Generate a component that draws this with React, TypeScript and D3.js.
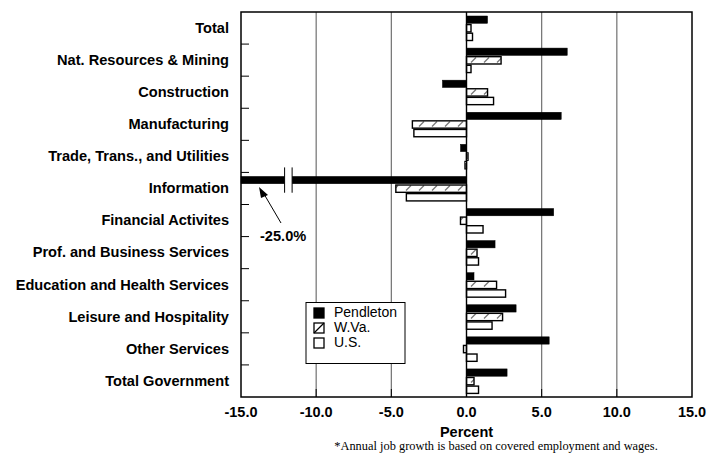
import React from "react";
import * as d3 from "d3";

const categories = [
  "Total",
  "Nat. Resources & Mining",
  "Construction",
  "Manufacturing",
  "Trade, Trans., and Utilities",
  "Information",
  "Financial Activites",
  "Prof. and Business Services",
  "Education and Health Services",
  "Leisure and Hospitality",
  "Other Services",
  "Total Government",
];

const seriesNames = ["Pendleton", "W.Va.", "U.S."];

const pendleton = [1.4, 6.7, -1.6, 6.3, -0.4, -25.0, 5.8, 1.9, 0.5, 3.3, 5.5, 2.7];
const wva = [0.3, 2.3, 1.4, -3.6, 0.1, -4.7, -0.4, 0.7, 2.0, 2.4, -0.2, 0.5];
const us = [0.4, 0.3, 1.8, -3.5, -0.1, -4.0, 1.1, 0.8, 2.6, 1.7, 0.7, 0.8];

const xTicks = [-15, -10, -5, 0, 5, 10, 15];

const W = 707;
const H = 454;
const margin = { top: 12, right: 15, bottom: 57, left: 241 };
const font = "'Liberation Sans', Arial, Helvetica, sans-serif";

export default function App() {
  const x = d3
    .scaleLinear()
    .domain([-15, 15])
    .range([margin.left, W - margin.right])
    .clamp(true);
  const y = d3
    .scaleBand<string>()
    .domain(categories)
    .range([margin.top, H - margin.bottom])
    .padding(0);
  const inner = d3
    .scaleBand<string>()
    .domain(seriesNames)
    .range([4, 28.5])
    .paddingInner(0.15);

  const series = [pendleton, wva, us];
  const fills = ["#000", "url(#hatch)", "#fff"];
  const x0 = x(0);
  const top = margin.top;
  const bottom = H - margin.bottom;

  // break marks on the information bar
  const infoY = y("Information")! + inner("Pendleton")!;
  const bw = inner.bandwidth();

  return (
    <svg
      width={W}
      height={H}
      style={{ position: "absolute", left: 0, top: 0, background: "#fff" }}
      fontFamily={font}
    >
      <defs>
        <pattern id="hatch" width="13" height="8" patternUnits="userSpaceOnUse">
          <rect width="13" height="8" fill="#fff" />
          <line x1="3" y1="6.5" x2="8" y2="1.5" stroke="#777" strokeWidth="1.3" />
        </pattern>
      </defs>

      {/* gridlines */}
      {xTicks
        .filter((t) => t !== 0 && Math.abs(t) !== 15)
        .map((t) => (
          <line key={t} x1={x(t)} x2={x(t)} y1={top} y2={bottom} stroke="#707070" strokeWidth={1.2} />
        ))}

      {/* bars */}
      {series.map((vals, si) =>
        vals.map((v, ci) => {
          const yy = y(categories[ci])! + inner(seriesNames[si])!;
          const xa = Math.min(x(v), x0);
          const xb = Math.max(x(v), x0);
          return (
            <rect
              key={`${si}-${ci}`}
              x={xa}
              y={yy}
              width={Math.max(xb - xa, 1)}
              height={bw}
              fill={fills[si]}
              stroke="#000"
              strokeWidth={si === 0 ? 0.5 : 1.4}
            />
          );
        })
      )}

      {/* axis break */}
      <rect x={x(-12.1)} y={infoY - 0.5} width={x(-11.6) - x(-12.1)} height={bw + 1} fill="#fff" />
      <line x1={x(-12.1)} x2={x(-12.1)} y1={infoY - 9} y2={infoY + bw + 9} stroke="#000" strokeWidth={1} />
      <line x1={x(-11.6)} x2={x(-11.6)} y1={infoY - 9} y2={infoY + bw + 9} stroke="#000" strokeWidth={1} />

      {/* zero line */}
      <line x1={x0} x2={x0} y1={top} y2={bottom} stroke="#000" strokeWidth={1.4} />

      {/* frame */}
      <rect
        x={margin.left}
        y={top}
        width={W - margin.right - margin.left}
        height={bottom - top}
        fill="none"
        stroke="#000"
        strokeWidth={1.5}
      />

      {/* left ticks at band boundaries */}
      {categories.slice(1).map((c) => (
        <line key={c} x1={margin.left} x2={margin.left + 8} y1={y(c)} y2={y(c)} stroke="#000" strokeWidth={1} />
      ))}
      {/* bottom ticks */}
      {xTicks.slice(1, -1).map((t) => (
        <line key={t} x1={x(t)} x2={x(t)} y1={bottom} y2={bottom - 8} stroke="#000" strokeWidth={1} />
      ))}

      {/* category labels */}
      {categories.map((c) => (
        <text
          key={c}
          x={229}
          y={y(c)! + y.bandwidth() / 2 + 1}
          textAnchor="end"
          dominantBaseline="middle"
          fontSize={14.6}
          fontWeight="bold"
        >
          {c}
        </text>
      ))}

      {/* x tick labels */}
      {xTicks.map((t) => (
        <text key={t} x={x(t)} y={417} textAnchor="middle" fontSize={14.5} fontWeight="bold">
          {t.toFixed(1)}
        </text>
      ))}
      <text x={x0} y={437} textAnchor="middle" fontSize={14.5} fontWeight="bold">
        Percent
      </text>
      <text
        x={496}
        y={450}
        textAnchor="middle"
        fontSize={12.4}
        fontFamily="'Liberation Serif', 'Times New Roman', serif"
      >
        *Annual job growth is based on covered employment and wages.
      </text>

      {/* annotation */}
      <line x1={281} y1={223} x2={264} y2={194} stroke="#000" strokeWidth={1} />
      <path d="M259,187 L268,195 L261,198 Z" fill="#000" />
      <text x={260} y={241} fontSize={14.6} fontWeight="bold">
        -25.0%
      </text>

      {/* legend */}
      <rect x={306} y={302.5} width={99} height={61} fill="#fff" stroke="#000" strokeWidth={1} />
      {seriesNames.map((s, i) => (
        <g key={s} transform={`translate(314, ${308 + i * 15})`}>
          <rect x={0} y={0} width={10} height={10} fill={i === 0 ? "#000" : "#fff"} stroke="#000" strokeWidth={1.3} />
          {i === 1 && <line x1={0} y1={10} x2={10} y2={0} stroke="#000" strokeWidth={1.3} />}
          <text x={20} y={5.5} dominantBaseline="middle" fontSize={14}>
            {s}
          </text>
        </g>
      ))}
    </svg>
  );
}
